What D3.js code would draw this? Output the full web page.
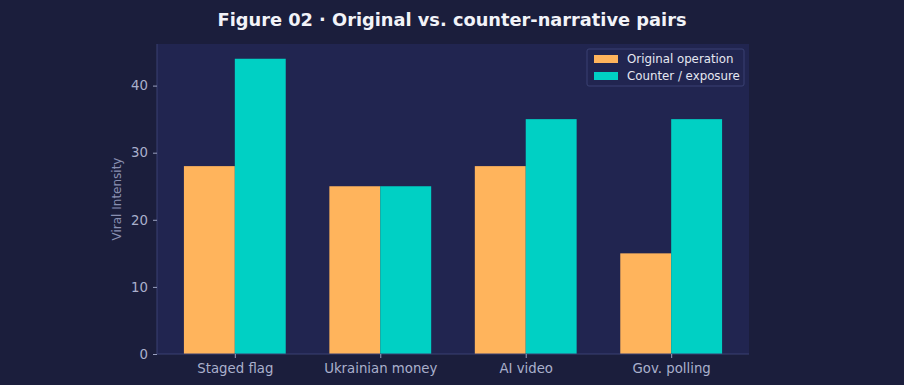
<!DOCTYPE html>
<html>
<head>
<meta charset="utf-8">
<script src="https://cdn.jsdelivr.net/npm/d3@7"></script>
<style>
  html, body { margin: 0; padding: 0; background: #1b1e3c; }
  svg { display: block; font-family: "DejaVu Sans", sans-serif; }
</style>
</head>
<body>
<div id="chart"></div>
<script>
const categories = ["Staged flag", "Ukrainian money", "AI video", "Gov. polling"];
const originalValues = [28, 25, 28, 15];
const counterValues = [44, 25, 35, 35];
const seriesNames = ["Original operation", "Counter / exposure"];
const yTicks = [0, 10, 20, 30, 40];

const width = 904;
const height = 385;
const margin = { top: 44, right: 155, bottom: 31, left: 157 };
const colors = ["#ffb45c", "#00d0c4"];

const svg = d3.select("#chart").append("svg").attr("width", width).attr("height", height);

svg.append("rect").attr("width", width).attr("height", height).attr("fill", "#1b1e3c");

const plotW = width - margin.left - margin.right;
const plotH = height - margin.top - margin.bottom;

// matplotlib-like: bar width 0.35, x margins 5%
const barW = 0.35;
const xMin = -barW, xMax = categories.length - 1 + barW;
const pad = (xMax - xMin) * 0.05;
const x = d3.scaleLinear().domain([xMin - pad, xMax + pad]).range([margin.left, margin.left + plotW]);

const yMaxData = d3.max(originalValues.concat(counterValues));
const y = d3.scaleLinear().domain([0, yMaxData * 1.05]).range([margin.top + plotH, margin.top]);

// axes background
svg.append("rect")
    .attr("x", margin.left).attr("y", margin.top)
    .attr("width", plotW).attr("height", plotH)
    .attr("fill", "#212550");

const series = [originalValues, counterValues];
series.forEach((vals, s) => {
    svg.append("g").selectAll("rect")
        .data(vals)
        .enter()
        .append("rect")
        .attr("x", (d, i) => x(i + (s === 0 ? -barW : 0)))
        .attr("width", x(barW) - x(0))
        .attr("y", d => y(d))
        .attr("height", d => y(0) - y(d))
        .attr("fill", colors[s]);
});

// spines
const spineColor = "#3a4172";
svg.append("line")
    .attr("x1", margin.left).attr("x2", margin.left)
    .attr("y1", margin.top).attr("y2", margin.top + plotH)
    .attr("stroke", spineColor).attr("stroke-width", 1);
svg.append("line")
    .attr("x1", margin.left).attr("x2", margin.left + plotW)
    .attr("y1", margin.top + plotH).attr("y2", margin.top + plotH)
    .attr("stroke", spineColor).attr("stroke-width", 1);

// y axis
const yAxis = d3.axisLeft(y).tickValues(yTicks).tickSize(4).tickPadding(5);
const yG = svg.append("g").attr("transform", `translate(${margin.left},0)`).call(yAxis);
yG.select(".domain").remove();
yG.selectAll("line").attr("stroke", "#9aa0c0");
yG.selectAll("text").attr("fill", "#aab0cc").style("font-size", "13.3px").style("font-family", "DejaVu Sans");

// x axis
const xAxis = d3.axisBottom(x).tickValues(d3.range(categories.length))
    .tickFormat(i => categories[i]).tickSize(4).tickPadding(6);
const xG = svg.append("g").attr("transform", `translate(0,${margin.top + plotH})`).call(xAxis);
xG.select(".domain").remove();
xG.selectAll("line").attr("stroke", "#9aa0c0");
xG.selectAll("text").attr("fill", "#aab0cc").style("font-size", "13.3px").style("font-family", "DejaVu Sans");

// y label
svg.append("text")
    .attr("transform", `translate(121,${margin.top + plotH / 2}) rotate(-90)`)
    .attr("text-anchor", "middle")
    .attr("fill", "#8a90b2")
    .style("font-size", "12px")
    .text("Viral Intensity");

// title
svg.append("text")
    .attr("x", width / 2).attr("y", 26)
    .attr("text-anchor", "middle")
    .attr("fill", "#f2f3f8")
    .style("font-size", "17.8px")
    .style("font-weight", "bold")
    .text("Figure 02 · Original vs. counter-narrative pairs");

// legend
const legend = svg.append("g").attr("transform", "translate(587,49)");
legend.append("rect")
    .attr("width", 157).attr("height", 37).attr("rx", 2)
    .attr("fill", "#212550").attr("stroke", "#3a4172");
seriesNames.forEach((name, i) => {
    legend.append("rect")
        .attr("x", 7).attr("y", 6 + i * 17)
        .attr("width", 24).attr("height", 8)
        .attr("fill", colors[i]);
    legend.append("text")
        .attr("x", 40).attr("y", 14 + i * 17)
        .attr("fill", "#e6e8f2")
        .style("font-size", "11.8px")
        .text(name);
});
</script>
</body>
</html>
